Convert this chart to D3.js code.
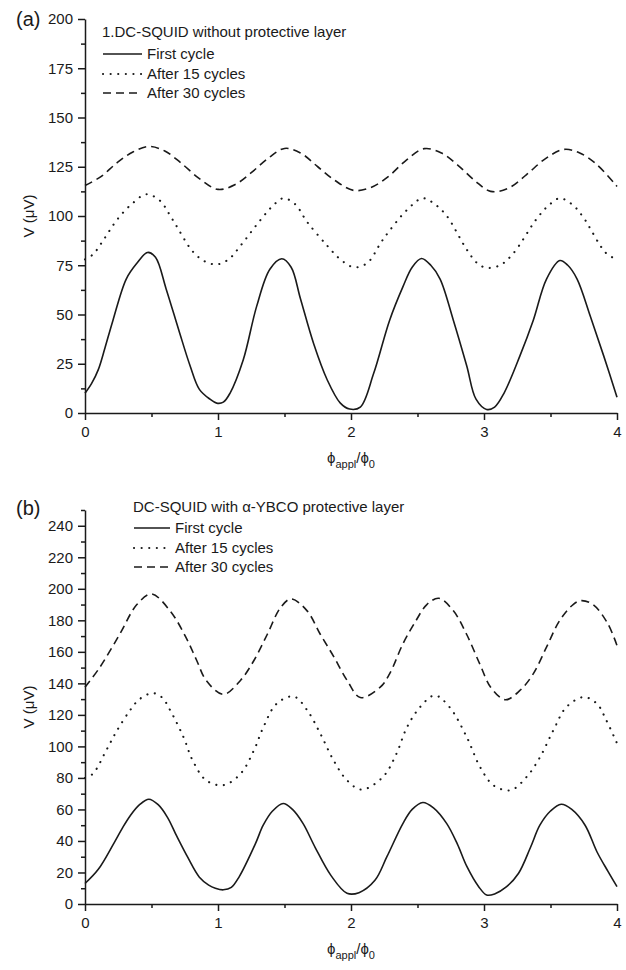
<!DOCTYPE html>
<html>
<head>
<meta charset="utf-8">
<script src="https://cdn.jsdelivr.net/npm/d3@7"></script>
<style>
  body { margin: 0; background: #fff; }
  svg { display: block; font-family: "Liberation Sans", Arial, sans-serif; }
</style>
</head>
<body>
<svg id="chart" width="626" height="970"></svg>
<script>
// ---------- Data ----------
// Panel (a): 1.DC-SQUID without protective layer
const aFirstX = [0, 0.05, 0.1, 0.15, 0.21, 0.31, 0.39, 0.47, 0.53, 0.61, 0.71, 0.79, 0.86, 0.94, 0.99, 1.04, 1.09, 1.19, 1.29, 1.39, 1.48, 1.55, 1.62, 1.72, 1.82, 1.92, 1.99, 2.07, 2.17, 2.29, 2.39, 2.46, 2.53, 2.60, 2.67, 2.77, 2.87, 2.94, 3.02, 3.08, 3.15, 3.27, 3.37, 3.47, 3.57, 3.63, 3.70, 3.80, 3.90, 4.0];
const aFirstV = [10, 15, 22, 33, 47, 68, 76, 81.5, 79, 63, 41, 24, 12, 7, 5, 5.5, 10, 27, 54, 73, 78.3, 74, 58, 35, 17, 5, 2, 3, 20, 47, 64, 74, 78.4, 75, 68, 47, 24, 7, 1.8, 3, 10, 29, 47, 68, 77.4, 75, 68, 49, 29, 8];

const a15X = [0, 0.06, 0.15, 0.24, 0.35, 0.46, 0.56, 0.66, 0.81, 0.9, 0.99, 1.08, 1.17, 1.32, 1.41, 1.49, 1.58, 1.67, 1.82, 1.92, 2.02, 2.12, 2.24, 2.42, 2.54, 2.63, 2.72, 2.87, 2.95, 3.02, 3.12, 3.22, 3.39, 3.48, 3.57, 3.66, 3.74, 3.92, 4.0];
const a15V = [78, 80.5, 89, 98, 106, 111, 108, 98, 82, 77, 75.4, 78, 85, 98, 105, 109, 106, 97, 85, 78, 74, 76, 88, 103, 109, 106, 100, 83, 76, 73.7, 75, 81, 98, 105, 109, 106, 100, 81, 78];

const a30X = [0, 0.12, 0.24, 0.36, 0.48, 0.6, 0.72, 0.86, 1.0, 1.13, 1.25, 1.38, 1.5, 1.62, 1.75, 1.88, 2.02, 2.15, 2.28, 2.41, 2.55, 2.68, 2.8, 2.93, 3.05, 3.18, 3.32, 3.46, 3.6, 3.72, 3.85, 4.0];
const a30V = [115.5, 120, 127, 132.5, 135.3, 133, 127, 119, 113.5, 116, 122, 129.5, 134.3, 132, 125, 118, 113, 114.5, 120, 128, 134.2, 132, 126, 118, 112.5, 114, 121, 129, 133.8, 132, 126, 115];

// Panel (b): DC-SQUID with α-YBCO protective layer
const bFirstX = [0, 0.1, 0.22, 0.28, 0.34, 0.41, 0.48, 0.55, 0.62, 0.69, 0.77, 0.86, 0.93, 0.98, 1.04, 1.1, 1.16, 1.28, 1.34, 1.41, 1.49, 1.56, 1.64, 1.73, 1.85, 1.97, 2.06, 2.18, 2.27, 2.39, 2.46, 2.54, 2.62, 2.72, 2.8, 2.87, 2.96, 3.02, 3.08, 3.17, 3.26, 3.35, 3.42, 3.5, 3.58, 3.66, 3.76, 3.85, 3.93, 4.0];
const bFirstV = [13, 22, 39, 48, 56, 63, 66.5, 63, 55, 43, 30, 17, 12, 10, 9, 10.5, 17.4, 38, 50, 59, 63.8, 60, 51, 36, 18, 6.8, 7.2, 15, 30, 51, 60, 64.4, 61, 51, 38, 24, 11, 5.7, 6.4, 11, 19.5, 36, 50, 59, 63.3, 60, 50, 33, 21, 11];

const b15X = [0, 0.06, 0.16, 0.24, 0.34, 0.41, 0.51, 0.58, 0.64, 0.74, 0.81, 0.91, 1.04, 1.17, 1.27, 1.34, 1.44, 1.57, 1.67, 1.77, 1.87, 1.97, 2.08, 2.24, 2.34, 2.42, 2.52, 2.63, 2.74, 2.87, 2.97, 3.07, 3.2, 3.32, 3.42, 3.52, 3.62, 3.75, 3.85, 3.92, 4.0];
const b15V = [80, 82.7, 97.5, 110, 123, 130, 133.8, 131, 123, 106, 91, 78.5, 75.4, 82.7, 97.5, 112, 127, 131.7, 123, 108, 91, 78.5, 72.6, 80.6, 95, 112, 125, 132.4, 125, 106, 87, 75.4, 72.2, 80.6, 93, 110, 125, 131.3, 127, 116.5, 102];

const b30X = [0, 0.11, 0.26, 0.39, 0.5, 0.64, 0.76, 0.84, 0.91, 1.04, 1.17, 1.27, 1.37, 1.47, 1.55, 1.67, 1.77, 1.87, 1.97, 2.07, 2.22, 2.29, 2.39, 2.49, 2.57, 2.66, 2.77, 2.87, 2.97, 3.05, 3.16, 3.27, 3.37, 3.47, 3.57, 3.67, 3.73, 3.82, 3.93, 4.0];
const b30V = [137.5, 150, 171, 190, 196.7, 186, 169, 154.5, 142, 133, 142, 154.5, 171, 188, 193.6, 186, 171, 157, 142, 131, 137.6, 146, 165, 180, 190, 194, 186, 171, 152, 137.6, 129.6, 135.5, 146, 163, 180, 190, 192.5, 190, 178, 164];

const seriesNames = ["First cycle", "After 15 cycles", "After 30 cycles"];
const xTicks = [0, 1, 2, 3, 4];
const aYTicks = [0, 25, 50, 75, 100, 125, 150, 175, 200];
const bYTicks = [0, 20, 40, 60, 80, 100, 120, 140, 160, 180, 200, 220, 240];

// ---------- Drawing ----------
const svg = d3.select("#chart");
const ink = "#1a1a1a";
const styles = [
  { dash: null, width: 1.6, cap: "butt" },
  { dash: "0.1,7.5", width: 2.1, cap: "round" },
  { dash: "8,5", width: 1.6, cap: "butt" }
];

function panel(cfg) {
  const x = d3.scaleLinear().domain([0, 4]).range([85, 617]);
  const y = d3.scaleLinear().domain(cfg.yDomain).range([cfg.bottom, cfg.top]);
  const g = svg.append("g");

  // x axis (major + minor)
  g.append("g").attr("transform", `translate(0,${cfg.bottom})`)
    .call(d3.axisBottom(x).tickValues(d3.range(0.5, 4, 1)).tickSize(4).tickFormat(""))
    .call(s => s.select(".domain").remove());
  const xa = g.append("g").attr("transform", `translate(0,${cfg.bottom})`)
    .call(d3.axisBottom(x).tickValues(xTicks).tickSize(7).tickSizeOuter(0).tickPadding(6).tickFormat(d3.format("d")));
  xa.selectAll("text").attr("font-size", 15).attr("fill", ink);

  // y axis (major + minor)
  g.append("g").attr("transform", `translate(85,0)`)
    .call(d3.axisLeft(y).tickValues(cfg.yMinor).tickSize(4).tickFormat(""))
    .call(s => s.select(".domain").remove());
  const ya = g.append("g").attr("transform", `translate(85,0)`)
    .call(d3.axisLeft(y).tickValues(cfg.yTicks).tickSize(7).tickSizeOuter(0).tickPadding(5).tickFormat(d3.format("d")));
  ya.selectAll("text").attr("font-size", 15).attr("fill", ink);

  g.selectAll(".domain, .tick line").attr("stroke", ink).attr("stroke-width", 1.5);

  // axis titles
  g.append("text")
    .attr("transform", `translate(34,${(cfg.top + cfg.bottom) / 2}) rotate(-90)`)
    .attr("text-anchor", "middle").attr("font-size", 15).attr("fill", ink)
    .text("V (μV)");
  const xt = g.append("text")
    .attr("x", 351).attr("y", cfg.bottom + 50)
    .attr("text-anchor", "middle").attr("font-size", 15).attr("fill", ink);
  xt.append("tspan").text("ϕ");
  xt.append("tspan").attr("font-size", 11).attr("dy", 5).text("appl");
  xt.append("tspan").attr("dy", -5).text("/ϕ");
  xt.append("tspan").attr("font-size", 11).attr("dy", 5).text("0");

  // panel label
  g.append("text").attr("x", 16).attr("y", cfg.labelY)
    .attr("font-size", 20).attr("fill", ink).text(cfg.label);

  // curves
  const line = d3.line().x(d => x(d[0])).y(d => y(d[1])).curve(d3.curveCatmullRom.alpha(0.5));
  cfg.series.forEach((s, i) => {
    const pts = s[0].map((xv, k) => [xv, s[1][k]]);
    g.append("path").datum(pts)
      .attr("d", line)
      .attr("fill", "none")
      .attr("stroke", ink)
      .attr("stroke-width", styles[i].width)
      .attr("stroke-linecap", styles[i].cap)
      .attr("stroke-dasharray", styles[i].dash);
  });

  // legend
  const L = cfg.legend;
  g.append("text").attr("x", L.x).attr("y", L.titleY)
    .attr("font-size", 15).attr("fill", ink).text(cfg.title);
  seriesNames.forEach((name, i) => {
    const by = L.rowsY[i];
    g.append("line")
      .attr("x1", L.x + 1).attr("x2", L.x + L.w)
      .attr("y1", by - 5).attr("y2", by - 5)
      .attr("stroke", ink)
      .attr("stroke-width", styles[i].width)
      .attr("stroke-linecap", styles[i].cap)
      .attr("stroke-dasharray", styles[i].dash);
    g.append("text").attr("x", L.x + L.w + 5).attr("y", by)
      .attr("font-size", 15).attr("fill", ink).text(name);
  });
}

panel({
  top: 19, bottom: 413, yDomain: [0, 200],
  yTicks: aYTicks, yMinor: d3.range(12.5, 200, 25),
  label: "(a)", labelY: 26,
  title: "1.DC-SQUID without protective layer",
  legend: { x: 102, w: 40, titleY: 37, rowsY: [59, 79, 98] },
  series: [[aFirstX, aFirstV], [a15X, a15V], [a30X, a30V]]
});

panel({
  top: 510, bottom: 904, yDomain: [0, 250],
  yTicks: bYTicks, yMinor: d3.range(10, 251, 20),
  label: "(b)", labelY: 515,
  title: "DC-SQUID with α-YBCO protective layer",
  legend: { x: 133, w: 37, titleY: 512, rowsY: [533, 553, 572] },
  series: [[bFirstX, bFirstV], [b15X, b15V], [b30X, b30V]]
});
</script>
</body>
</html>
